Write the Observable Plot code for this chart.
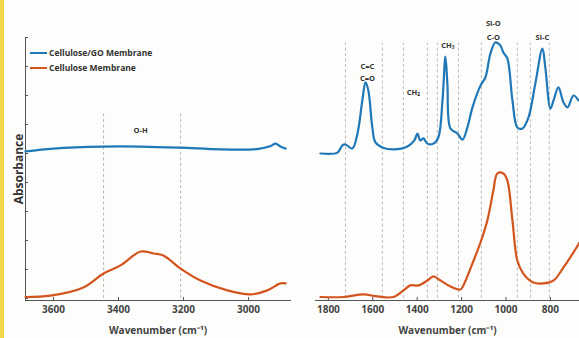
<!DOCTYPE html>
<html><head><meta charset="utf-8">
<script src="https://cdn.jsdelivr.net/npm/d3@7"></script>
<script src="https://cdn.jsdelivr.net/npm/@observablehq/plot@0.6"></script>
<style>
body{margin:0;background:#fff;}
#wrap{position:relative;width:579px;height:338px;display:flex;box-sizing:border-box;border-left:4px solid #f3d84a;background:#fdfdfb;font-family:"Open Sans",sans-serif;overflow:hidden;}
#legend{position:absolute;left:26px;top:45px;font-size:8.5px;font-weight:700;color:#333;line-height:15px;}
#legend .row{display:flex;align-items:center;}
#legend .sw{display:inline-block;width:17px;height:2px;margin-right:2px;}
</style></head>
<body>
<div id="wrap"><div id="legend"></div></div>
<script>
// Series names and colours
const seriesNames = ["Cellulose/GO Membrane", "Cellulose Membrane"];
const seriesColors = ["#1f78b8", "#d4541e"];

// Left panel (O-H region)
const wnGoLeft  = [3686, 3600, 3450, 3330, 3210, 3086, 2985, 2954, 2932, 2917, 2902, 2886];
const absGoLeft = [5.07, 5.17, 5.24, 5.24, 5.2, 5.14, 5.14, 5.19, 5.26, 5.34, 5.24, 5.17];
const wnCelLeft  = [3686, 3609, 3508, 3446, 3394, 3332, 3292, 3262, 3209, 3148, 3065, 2994, 2942, 2902, 2886];
const absCelLeft = [0.05, 0.1, 0.38, 0.86, 1.14, 1.62, 1.55, 1.48, 1.03, 0.62, 0.28, 0.14, 0.28, 0.52, 0.52];

// Right panel (fingerprint region)
const wnGoRight  = [1836,1759,1737,1723,1692,1669,1647,1633,1620,1602,1588,1557,1507,1444,1413,1399,1386,1372,1354,1327,1305,1286,1273,1264,1250,1219,1196,1174,1151,1115,1093,1070,1048,1025,1012,994,971,949,926,899,868,836,823,800,786,764,741,723,696,674];
const absGoRight = [5.0,5.03,5.28,5.31,5.17,5.69,6.83,7.45,7.17,5.9,5.38,5.21,5.14,5.24,5.45,5.69,5.45,5.52,5.34,5.34,5.55,6.83,8.34,7.41,5.86,5.69,5.48,5.9,6.59,7.34,7.62,8.45,8.83,8.72,8.48,8.28,6.83,5.9,5.86,6.24,7.41,8.62,7.97,6.55,6.83,7.28,6.76,6.59,7.0,6.83];
const wnCelRight  = [1836,1732,1642,1579,1507,1462,1431,1395,1354,1327,1295,1250,1205,1192,1151,1115,1084,1057,1039,1012,994,971,949,922,877,832,786,741,696,669];
const absCelRight = [0.05,0.05,0.14,0.07,0.05,0.28,0.45,0.45,0.62,0.76,0.62,0.41,0.31,0.45,1.21,1.93,2.69,3.72,4.31,4.31,4.07,2.69,1.31,0.86,0.55,0.52,0.62,1.07,1.59,1.93];

// Axis ticks
const ticksLeft  = [3600, 3400, 3200, 3000];
const ticksRight = [1800, 1600, 1400, 1200, 1000, 800];
const ticksY = [0,1,2,3,4,5,6,7,8,9];

// Dashed reference lines
const dashLeft  = [3446, 3209];
const dashLeftTop = 6.4;
const dashRight = [1723, 1557, 1462, 1354, 1309, 1214, 1111, 949, 890, 805];
const dashRightTop = 8.8;

// Band annotations
const annLeft  = [{w: 3332, a: 5.79, t: "O-H"}];
const annRight = [
  {w: 1624, a: 8.0, t: "C=C"}, {w: 1624, a: 7.6, t: "C=O"},
  {w: 1417, a: 7.1, t: "CH₂"}, {w: 1262, a: 8.72, t: "CH₃"},
  {w: 1057, a: 9.48, t: "Si-O"}, {w: 1057, a: 9.0, t: "C-O"},
  {w: 836, a: 9.0, t: "Si-C"}
];

const zip = (ws, as) => ws.map((w, i) => ({w, a: as[i]}));
const font = {fontFamily: "Open Sans, sans-serif"};

function panel({width, marginLeft, marginRight, domain, ticks, go, cel, dash, dashTop, ann, yAxis}) {
  const marks = [
    Plot.ruleX(dash, {x: d => d, y1: 0, y2: dashTop, stroke: "#a8a8a8", strokeWidth: 0.8, strokeDasharray: "3,2.5"}),
    Plot.frame({anchor: "bottom", stroke: "#555"}),
    // inward tick marks
    Plot.axisX({ticks, tickSize: 3, dy: -3, stroke: "#555", tickFormat: () => "", label: null}),
    // tick labels and title
    Plot.axisX({ticks, tickSize: 0, tickPadding: 5, tickFormat: d => `${d}`, fontSize: 10, fontWeight: 700, fill: "#444",
      label: "Wavenumber (cm⁻¹)", labelAnchor: "center", labelArrow: false, labelOffset: 33}),
    Plot.line(cel, {x: "w", y: "a", stroke: seriesColors[1], strokeWidth: 2.2, curve: "catmull-rom"}),
    Plot.line(go, {x: "w", y: "a", stroke: seriesColors[0], strokeWidth: 2.2, curve: "catmull-rom"}),
    Plot.text(ann, {x: "w", y: "a", text: "t", fontSize: 7.5, fontWeight: 700, fill: "#333"})
  ];
  if (yAxis) {
    marks.unshift(Plot.frame({anchor: "left", stroke: "#555"}));
    marks.push(Plot.axisY({ticks: ticksY, tickSize: 3, dx: 3, stroke: "#555", tickFormat: () => "", label: null}));
    marks.push(Plot.axisY({ticks: [], tickSize: 0, label: "Absorbance", labelAnchor: "center", labelArrow: false, labelOffset: 11, fontSize: 12, fontWeight: 700, fill: "#333"}));
  } else {
    marks.push(Plot.axisY({ticks: [], label: null, tickSize: 0}));
  }
  return Plot.plot({
    width, height: 338, marginLeft, marginRight, marginTop: 37, marginBottom: 38,
    style: {background: "transparent", ...font, fontSize: "10px", overflow: "visible"},
    x: {domain, label: null},
    y: {domain: [-0.07, 9], label: null},
    marks
  });
}

const wrap = document.getElementById("wrap");
wrap.appendChild(panel({width: 296, marginLeft: 21, marginRight: 10, domain: [3686, 2871], ticks: ticksLeft,
  go: zip(wnGoLeft, absGoLeft), cel: zip(wnCelLeft, absCelLeft), dash: dashLeft, dashTop: dashLeftTop, ann: annLeft, yAxis: true}));
wrap.appendChild(panel({width: 279, marginLeft: 15, marginRight: 0, domain: [1858, 669], ticks: ticksRight,
  go: zip(wnGoRight, absGoRight), cel: zip(wnCelRight, absCelRight), dash: dashRight, dashTop: dashRightTop, ann: annRight, yAxis: false}));

const legend = document.getElementById("legend");
seriesNames.forEach((n, i) => {
  const row = document.createElement("div");
  row.className = "row";
  row.innerHTML = `<span class="sw" style="background:${seriesColors[i]}"></span><span>${n}</span>`;
  legend.appendChild(row);
});
</script>
</body></html>
